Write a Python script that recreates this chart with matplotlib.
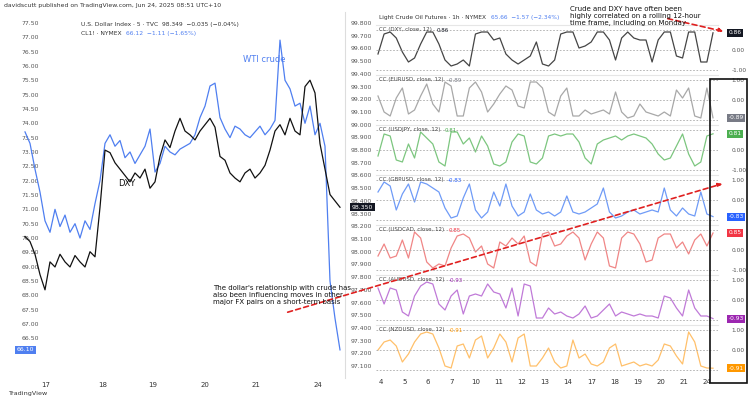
import matplotlib
matplotlib.use("Agg")
import matplotlib.pyplot as plt
from matplotlib.patches import Rectangle, FancyArrowPatch

W, H = 750, 401

# ---- data ----
wti = [73.7, 73.3, 72.4, 71.6, 70.6, 70.2, 71.0, 70.4, 70.8, 70.2, 70.5, 70.0, 70.6, 70.3,
       71.2, 72.0, 73.3, 73.6, 73.2, 73.4, 72.8, 73.0, 72.6, 72.9, 73.2, 73.8, 72.3, 72.6,
       73.2, 73.0, 72.9, 73.1, 73.2, 73.3, 73.6, 74.2, 74.6, 75.3, 75.4, 74.2, 73.8, 73.5,
       73.9, 73.8, 73.6, 73.5, 73.7, 73.9, 73.6, 73.8, 74.1, 76.9, 75.5, 75.2, 74.6, 74.7,
       74.0, 74.6, 73.6, 74.0, 73.2, 68.5, 67.2, 66.1]
dxy = [98.12, 98.08, 97.98, 97.82, 97.70, 97.92, 97.88, 97.98, 97.92, 97.88, 97.97, 97.92,
       97.88, 98.00, 97.96, 98.35, 98.80, 98.78, 98.70, 98.65, 98.60, 98.55, 98.62, 98.58,
       98.65, 98.50, 98.55, 98.75, 98.88, 98.82, 98.95, 99.05, 98.95, 98.92, 98.88, 98.95,
       99.00, 99.05, 98.98, 98.75, 98.72, 98.62, 98.58, 98.55, 98.62, 98.65, 98.58, 98.62,
       98.68, 98.80, 98.95, 99.00, 98.92, 99.05, 98.95, 98.92, 99.30, 99.35, 99.25, 98.85,
       98.65, 98.45, 98.40, 98.35]
left_days = ["17", "18", "19", "20", "21", "24"]
left_day_px = [46, 103, 153, 205, 256, 318]
wti_ticks = [66.0, 66.5, 67.0, 67.5, 68.0, 68.5, 69.0, 69.5, 70.0, 70.5, 71.0, 71.5, 72.0,
             72.5, 73.0, 73.5, 74.0, 74.5, 75.0, 75.5, 76.0, 76.5, 77.0, 77.5]
dxy_ticks = [97.1, 97.2, 97.3, 97.4, 97.5, 97.6, 97.7, 97.8, 97.9, 98.0, 98.1, 98.2, 98.3,
             98.4, 98.5, 98.6, 98.7, 98.8, 98.9, 99.0, 99.1, 99.2, 99.3, 99.4, 99.5, 99.6,
             99.7, 99.8]

right_days = ["4", "5", "6", "7", "10", "11", "12", "13", "14", "17", "18", "19", "20", "21", "24"]
right_day_px = [381, 405, 428, 452, 476, 499, 522, 545, 568, 592, 615, 638, 661, 684, 707]

pairs = ["DXY", "EURUSD", "USDJPY", "GBPUSD", "USDCAD", "AUDUSD", "NZDUSD"]
last_vals = [0.86, -0.89, 0.81, -0.83, 0.85, -0.93, -0.91]
cc_dxy = [-0.2, 0.8, 0.9, 0.6, -0.1, -0.6, -0.4, 0.3, 0.9, 0.9, 0.3, -0.5, -0.8, -0.7, -0.5,
          -0.8, 0.8, 0.9, 0.9, 0.5, 0.6, -0.2, -0.5, -0.7, -0.5, -0.3, 0.4, -0.7, -0.8, -0.5,
          0.8, 0.9, 0.9, 0.1, 0.2, 0.4, 0.9, 0.9, 0.5, -0.5, 0.6, 0.9, 0.6, 0.5, 0.5, -0.6,
          0.5, 0.9, 0.9, -0.3, -0.4, 0.9, 0.9, -0.6, -0.6, 0.86]
cc_eur = [0.2, -0.6, -0.8, 0.1, 0.6, -0.7, -0.5, 0.2, 0.8, -0.2, -0.6, 0.9, 0.7, -0.8,
          -0.8, 0.6, 0.9, 0.4, -0.6, -0.2, 0.3, 0.7, 0.5, -0.3, -0.4, 0.9, 0.9, 0.6, -0.6,
          -0.8, 0.2, 0.6, -0.8, -0.8, -0.5, -0.7, -0.6, -0.5, -0.7, 0.4, -0.6, -0.9, -0.8,
          -0.2, -0.6, -0.7, -0.8, -0.6, -0.8, 0.5, 0.1, 0.6, -0.8, -0.9, 0.6, -0.89]
cc_jpy = [-0.3, 0.8, 0.7, -0.5, -0.6, 0.3, -0.4, 0.9, 0.6, 0.3, -0.6, -0.8, 0.9, 0.9, 0.3,
          0.6, -0.1, 0.7, 0.2, -0.7, -0.8, -0.6, 0.4, 0.8, 0.7, -0.6, -0.7, -0.4, 0.7, 0.8,
          0.7, 0.8, 0.8, 0.4, -0.4, -0.7, 0.3, 0.5, 0.6, 0.7, 0.5, 0.7, 0.8, 0.7, 0.6, 0.3,
          -0.2, -0.5, -0.4, 0.2, 0.8, -0.2, -0.8, -0.6, 0.7, 0.81]
cc_gbp = [0.4, 0.9, 0.7, -0.5, 0.3, 0.8, -0.1, 0.9, 0.8, 0.6, 0.4, -0.4, -0.9, -0.8, 0.1,
          0.8, -0.5, -0.9, -0.6, 0.4, -0.3, 0.8, -0.3, -0.8, -0.6, 0.3, -0.5, -0.7, -0.6,
          -0.8, -0.6, 0.2, -0.6, -0.7, -0.6, -0.4, -0.2, 0.6, -0.6, -0.9, -0.8, -0.6, -0.5,
          -0.7, -0.6, -0.5, -0.6, 0.6, -0.5, -0.8, -0.4, -0.7, -0.8, 0.4, -0.7, -0.83]
cc_cad = [-0.3, 0.3, -0.4, -0.3, 0.5, -0.4, 0.9, 0.6, -0.6, -0.9, -0.7, -0.8, 0.1, 0.7,
          0.8, 0.6, -0.1, 0.2, -0.7, -0.9, 0.4, 0.2, 0.6, 0.3, 0.7, -0.6, -0.8, 0.8, 0.9, 0.2,
          0.3, 0.7, 0.9, 0.6, -0.5, 0.3, 0.9, 0.6, -0.8, -0.9, 0.6, 0.9, 0.8, 0.3, -0.6,
          -0.5, 0.6, 0.8, 0.8, 0.1, 0.4, -0.2, 0.5, 0.8, 0.2, 0.85]
cc_aud = [0.6, -0.2, 0.6, 0.5, -0.6, -0.8, 0.2, 0.7, 0.9, 0.8, -0.2, -0.5, 0.2, 0.5, -0.7,
          0.2, 0.3, 0.2, 0.8, 0.4, 0.3, -0.4, 0.6, -0.8, 0.8, 0.7, -0.9, -0.9, -0.4, -0.7,
          -0.6, -0.8, -0.9, -0.7, -0.3, -0.9, -0.8, -0.5, -0.2, -0.8, -0.6, -0.7, -0.8, -0.7,
          -0.8, -0.8, -0.9, 0.2, 0.1, -0.4, -0.8, 0.5, -0.4, -0.8, -0.8, -0.93]
cc_nzd = [0.0, 0.4, 0.5, 0.2, -0.6, -0.2, 0.4, 0.8, 0.9, 0.8, 0.1, -0.8, -0.9, 0.2, 0.3,
          -0.4, 0.5, 0.7, -0.4, 0.1, 0.8, 0.4, -0.6, 0.6, 0.8, -0.8, -0.8, -0.4, 0.1, -0.6,
          -0.9, -0.8, 0.5, -0.4, -0.2, -0.7, -0.8, -0.6, 0.1, 0.3, -0.8, -0.7, -0.6, -0.8,
          -0.7, -0.8, -0.5, 0.3, 0.2, -0.3, -0.7, 0.9, 0.4, -0.8, -0.9, -0.91]
cc_series = [cc_dxy, cc_eur, cc_jpy, cc_gbp, cc_cad, cc_aud, cc_nzd]
line_colors = ["#454545", "#a8a8a8", "#7cc67f", "#6f9bf7", "#f08686", "#c07ad8", "#ffc06a"]
box_colors = ["#131722", "#787b86", "#4caf50", "#2962ff", "#f23645", "#9c27b0", "#ff9800"]


def box(x0, y0, x1, y1):
    return [x0 / W, 1 - y1 / H, (x1 - x0) / W, (y1 - y0) / H]


def px_to_idx(p, n, p0, p1):
    return (p - p0) / (p1 - p0) * (n - 1)


def after(ax, prev, s, color, size):
    # place a text right after another text artist
    return ax.annotate(s, xy=(1, 0.5), xycoords=prev, xytext=(3, 0),
                       textcoords="offset points", va="center", fontsize=size, color=color)


fig = plt.figure(figsize=(7.5, 4.01), dpi=100)
fig.patch.set_facecolor("white")

# ---- left chart: WTI (left axis) and DXY (right axis) ----
n = len(wti)
ax = fig.add_axes(box(15, 12, 345, 378))
ax.set_xlim(px_to_idx(15, n, 25, 340), px_to_idx(345, n, 25, 340))
ax.set_ylim(65.12, 77.88)
ax.plot(range(n), wti, color="#4f7ff0", lw=0.9)
# the last-price tag hides the tick label right under it
wti_shown = [v for v in wti_ticks if abs(v - wti[-1]) > 0.2]
ax.set_yticks(wti_shown)
ax.set_yticklabels([f"{v:.2f}" for v in wti_shown])
ax.tick_params(axis="y", direction="in", length=0, pad=-5, labelsize=4.4, colors="#555")
for lab in ax.get_yticklabels():
    lab.set_horizontalalignment("left")
ax.set_xticks([px_to_idx(p, n, 25, 340) for p in left_day_px])
ax.set_xticklabels(left_days)
ax.tick_params(axis="x", length=0, labelsize=5, colors="#333", pad=3)
for s in ax.spines.values():
    s.set_visible(False)
ax.spines["right"].set_visible(True)
ax.spines["right"].set_color("#ddd")

ax2 = ax.twinx()
ax2.set_ylim(97.006, 99.887)
ax2.plot(range(n), dxy, color="#111111", lw=0.9)
ax2.set_yticks(dxy_ticks)
ax2.set_yticklabels([f"{v:.3f}" for v in dxy_ticks])
ax2.tick_params(axis="y", length=0, labelsize=4.4, colors="#555", pad=4)
for s in ax2.spines.values():
    s.set_visible(False)
ax2.text(1.02, dxy[-1], f"{dxy[-1]:.3f}", transform=ax2.get_yaxis_transform(),
         fontsize=4.4, color="white", va="center", zorder=5,
         bbox=dict(boxstyle="square,pad=0.25", fc="#131722", ec="none"))
ax.text(0.005, wti[-1], f"{wti[-1]:.2f}", transform=ax.get_yaxis_transform(),
        fontsize=4.4, color="white", va="center",
        bbox=dict(boxstyle="square,pad=0.25", fc="#4f7ff0", ec="none"))
t = ax.text(0.2, 0.965, "U.S. Dollar Index · 5 · TVC", transform=ax.transAxes,
            fontsize=4.3, color="#333", va="center")
after(ax, t, "98.349  −0.035 (−0.04%)", "#333", 4.3)
t = ax.text(0.2, 0.94, "CL1! · NYMEX", transform=ax.transAxes,
            fontsize=4.3, color="#333", va="center")
after(ax, t, "66.12  −1.11 (−1.65%)", "#4f7ff0", 4.3)

# ---- right: correlation panels ----
m = len(cc_dxy)
for i, (pair, vals, lc, bc, lv) in enumerate(zip(pairs, cc_series, line_colors,
                                                  box_colors, last_vals)):
    top = 25 + 50 * i
    a = fig.add_axes(box(376, top, 718, top + 50))
    a.set_xlim(px_to_idx(376, m, 378, 713), px_to_idx(718, m, 378, 713))
    a.set_ylim(-1.25, 1.25)
    a.plot(range(m), vals, color=lc, lw=0.9)
    for g in (1, 0, -1):
        a.axhline(g, color="#aaa", lw=0.6, ls=(0, (2, 2)))
    # the last-value tag covers the nearest bound label
    shown = [v for v in (1, 0, -1) if not (lv > 0 and v == 1) and not (lv < 0 and v == -1)]
    a.set_yticks(shown)
    a.set_yticklabels([f"{v:.2f}" for v in shown])
    a.yaxis.tick_right()
    a.tick_params(axis="y", length=0, labelsize=4.2, colors="#555", pad=10)
    a.set_xticks([px_to_idx(p, m, 378, 713) for p in right_day_px])
    if i == len(pairs) - 1:
        a.set_xticklabels(right_days)
        a.tick_params(axis="x", length=0, labelsize=5, colors="#333", pad=3)
    else:
        a.set_xticklabels([])
        a.tick_params(axis="x", length=0)
    for s in a.spines.values():
        s.set_visible(False)
    a.spines["top"].set_visible(True)
    a.spines["top"].set_color("#e6e6e6")
    t = a.text(0.01, 0.9, f"CC ({pair}, close, 12)", transform=a.transAxes,
               fontsize=4.0, color="#444", va="center")
    after(a, t, f"{lv:.2f}", bc, 4.0)
    a.text(1.03, lv, f"{lv:.2f}", transform=a.get_yaxis_transform(), fontsize=4.2,
           color="white", va="center", zorder=5,
           bbox=dict(boxstyle="square,pad=0.25", fc=bc, ec="none"))
    if i == 0:
        t = a.text(0.01, 1.16, "Light Crude Oil Futures · 1h · NYMEX", transform=a.transAxes,
                   fontsize=4.2, color="#333", va="center")
        after(a, t, "65.66  −1.57 (−2.34%)", "#4f7ff0", 4.2)

# ---- annotations overlay ----
ov = fig.add_axes([0, 0, 1, 1], zorder=10)
ov.set_xlim(0, W)
ov.set_ylim(H, 0)
ov.axis("off")
ov.patch.set_alpha(0)
ov.text(4, 6, "davidscutt published on TradingView.com, Jun 24, 2025 08:51 UTC+10",
        fontsize=4.4, color="#333", va="center")
ov.text(243, 60, "WTI crude", fontsize=6, color="#4f7ff0", va="center")
ov.text(118, 184, "DXY", fontsize=6, color="#111", va="center")
ov.text(213, 295, "The dollar's relationship with crude has\nalso been influencing moves in other\n"
        "major FX pairs on a short-term basis", fontsize=5.0, color="#111", va="center",
        linespacing=1.15)
ov.text(570, 16, "Crude and DXY have often been\nhighly correlated on a rolling 12-hour\n"
        "time frame, including on Monday", fontsize=5.0, color="#111", va="center",
        linespacing=1.15)
ov.add_patch(FancyArrowPatch((665, 18), (726, 32), arrowstyle="-|>", mutation_scale=6,
                             color="#e02020", lw=1.2, ls=(0, (3, 2))))
ov.add_patch(FancyArrowPatch((285, 313), (725, 183), arrowstyle="-|>", mutation_scale=6,
                             color="#e02020", lw=1.2, ls=(0, (3, 2))))
ov.add_patch(Rectangle((710, 79), 37, 304, fill=False, ec="#111", lw=1.2))
ov.text(8, 393, "TradingView", fontsize=4.6, color="#333", va="center")

fig.savefig("out.png", dpi=100)
